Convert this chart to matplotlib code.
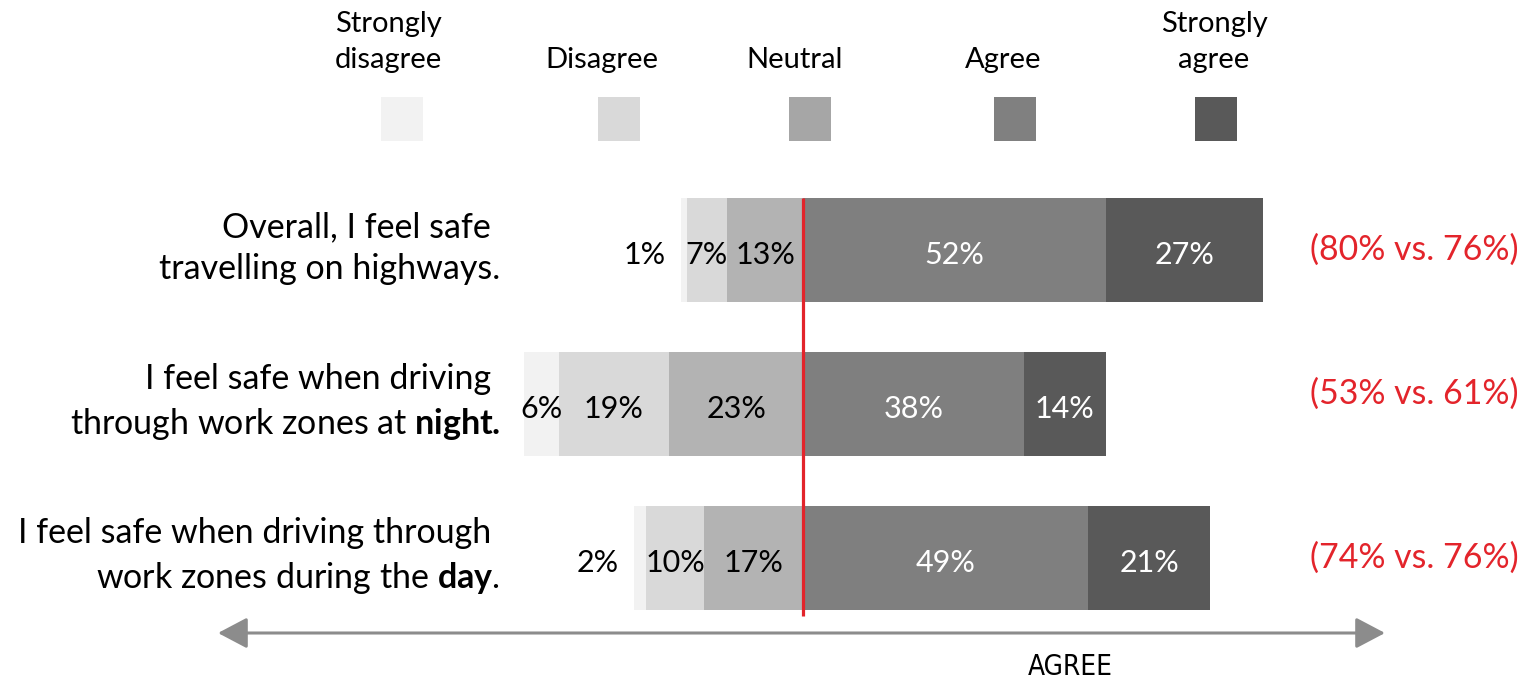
import matplotlib
matplotlib.use("Agg")
import matplotlib.pyplot as plt
from matplotlib.patches import Rectangle, FancyArrowPatch

# ---- data ---------------------------------------------------------------
categories = ["Strongly\ndisagree", "Disagree", "Neutral", "Agree", "Strongly\nagree"]
statements = [
    "Overall, I feel safe \ntravelling on highways.",
    "I feel safe when driving \nthrough work zones at $\\mathbf{night.}$",
    "I feel safe when driving through \nwork zones during the $\\mathbf{day}$.",
]
strongly_disagree = [1, 6, 2]
disagree = [7, 19, 10]
neutral = [13, 23, 17]
agree = [52, 38, 49]
strongly_agree = [27, 14, 21]
comparisons = ["(80% vs. 76%)", "(53% vs. 61%)", "(74% vs. 76%)"]

bar_colors = ["#f2f2f2", "#d9d9d9", "#b3b3b3", "#7f7f7f", "#595959"]
legend_colors = ["#f2f2f2", "#d9d9d9", "#a6a6a6", "#808080", "#595959"]
label_colors = ["black", "black", "black", "white", "white"]
RED = "#e3242b"
GREY = "#8c8c8c"

# ---- fonts --------------------------------------------------------------
plt.rcParams["font.family"] = ["Lato", "DejaVu Sans"]
plt.rcParams["mathtext.fontset"] = "custom"
plt.rcParams["mathtext.rm"] = "Lato"
plt.rcParams["mathtext.bf"] = "Lato:bold"
plt.rcParams["mathtext.it"] = "Lato:italic"

W, H, DPI = 1536, 683, 100
fig = plt.figure(figsize=(W / DPI, H / DPI), dpi=DPI)
fig.patch.set_facecolor("white")


def fx(px):
    return px / W


def fy(py):
    return 1 - py / H


# axes spans the full canvas; x in percent, y in row units
X0, SCALE = 803.0, 5.82   # zero position and pixels per percent
ROW0, ROWSTEP = 250.0, 154.0
BAR_H = 104.0 / ROWSTEP
ax = fig.add_axes([0, 0, 1, 1])
ax.set_xlim(-X0 / SCALE, (W - X0) / SCALE)
ax.set_ylim((H - ROW0) / ROWSTEP, -ROW0 / ROWSTEP)
ax.axis("off")


def px_to_x(px):
    return (px - X0) / SCALE


rows = list(range(len(statements)))
series = [strongly_disagree, disagree, neutral, agree, strongly_agree]

for i in rows:
    left = -(strongly_disagree[i] + disagree[i] + neutral[i])
    for k, vals in enumerate(series):
        v = vals[i]
        ax.barh(i, v, left=left, height=BAR_H, color=bar_colors[k], edgecolor="none")
        ty = i + 0.035
        if k == 0 and v <= 2:
            ax.text(left - 2.6, ty, f"{v}%", ha="right", va="center",
                    fontsize=22, color=label_colors[k])
        else:
            ax.text(left + v / 2, ty, f"{v}%", ha="center", va="center",
                    fontsize=22, color=label_colors[k])
        left += v

# centre line at zero
ax.vlines(0, -BAR_H / 2, rows[-1] + BAR_H / 2 + 0.04, color=RED, lw=2.3, zorder=5)

# statement labels on the left
for i, s in enumerate(statements):
    ax.text(px_to_x(500), i - 0.01, s, ha="right", va="center",
            multialignment="right", fontsize=24.5, linespacing=1.38, color="black")

# comparison notes on the right
note_nudge = [0.0, -0.065, 0.0]
for i, c in enumerate(comparisons):
    ax.text(px_to_x(1414), i + note_nudge[i], c, ha="center", va="center",
            fontsize=24.4, color=RED)

# legend across the top
swatch_x = [402, 619, 810, 1015, 1216]
caption_x = [388, 602, 795, 1003, 1214]
for sx, tx, name, col in zip(swatch_x, caption_x, categories, legend_colors):
    fig.patches.append(Rectangle((fx(sx - 21), fy(141)), 42 / W, 44 / H,
                                 transform=fig.transFigure, facecolor=col,
                                 edgecolor="none"))
    fig.text(fx(tx), fy(73), name, ha="center", va="bottom", fontsize=21,
             linespacing=1.48, multialignment="center")

# double-headed axis arrow
arrow = FancyArrowPatch((fx(218), fy(633)), (fx(1385), fy(633)),
                        transform=fig.transFigure,
                        arrowstyle="<|-|>,head_length=18,head_width=9.5",
                        mutation_scale=1, color=GREY, lw=2.2,
                        shrinkA=0, shrinkB=0)
fig.patches.append(arrow)
fig.text(fx(1070), fy(667), "AGREE", ha="center", va="center", fontsize=20,
         family="DejaVu Sans", fontstretch="condensed", color="black")

fig.savefig("out.png", dpi=DPI, facecolor="white")
